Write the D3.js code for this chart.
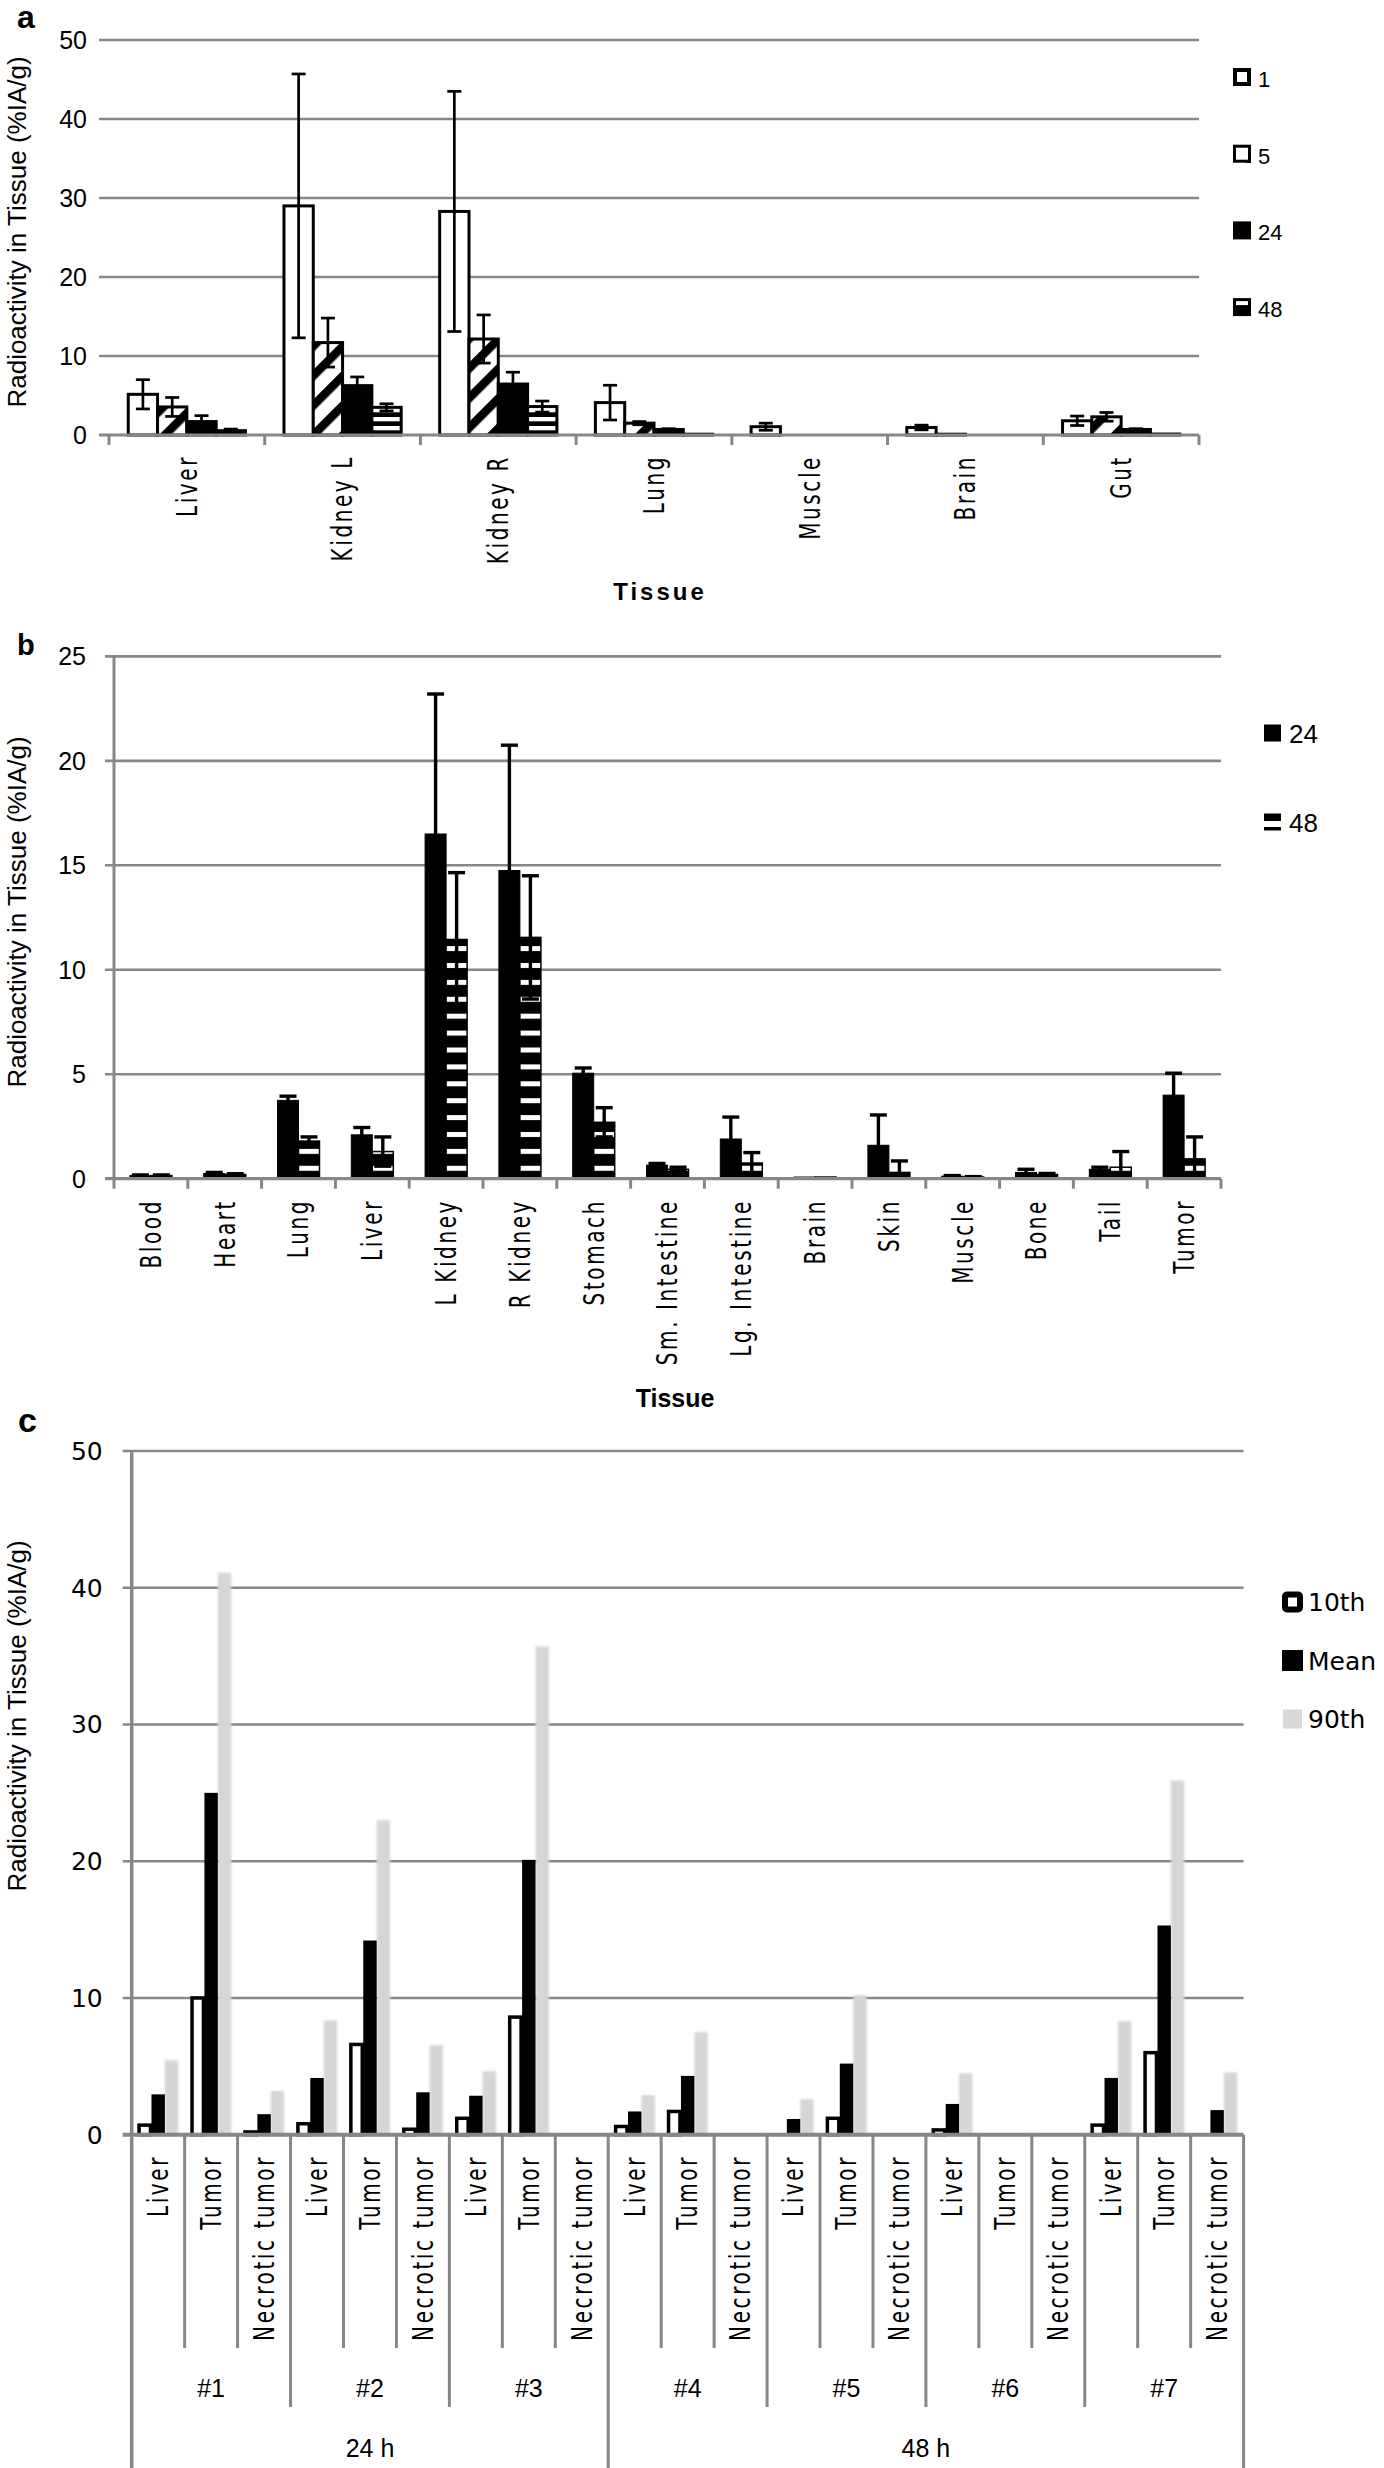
<!DOCTYPE html>
<html>
<head>
<meta charset="utf-8">
<script src="https://cdn.jsdelivr.net/npm/d3@7"></script>
<style>
html,body{margin:0;padding:0;background:#fff;}
svg{display:block;}
</style>
</head>
<body>
<svg id="chart"></svg>
<script>
// ================= DATA =================
// ---- Panel a ----
const tissuesA = ["Liver", "Kidney L", "Kidney R", "Lung", "Muscle", "Brain", "Gut"];
const seriesA = ["1", "5", "24", "48"];
const valuesA_1h  = [5.15, 29.0, 28.3, 4.1, 1.05, 0.95, 1.8];
const errorsA_1h  = [1.85, 16.7, 15.2, 2.2, 0.45, 0.3, 0.6];
const valuesA_5h  = [3.55, 11.7, 12.15, 1.5, 0, 0.1, 2.3];
const errorsA_5h  = [1.2, 3.1, 3.05, 0.2, 0, 0, 0.55];
const valuesA_24h = [1.7, 6.25, 6.45, 0.7, 0, 0, 0.7];
const errorsA_24h = [0.75, 1.1, 1.5, 0.1, 0, 0, 0.1];
const valuesA_48h = [0.55, 3.5, 3.6, 0.1, 0, 0, 0.12];
const errorsA_48h = [0.2, 0.45, 0.7, 0, 0, 0, 0];
const yTicksA = [0, 10, 20, 30, 40, 50];

// ---- Panel b ----
const tissuesB = ["Blood", "Heart", "Lung", "Liver", "L Kidney", "R Kidney", "Stomach",
  "Sm. Intestine", "Lg. Intestine", "Brain", "Skin", "Muscle", "Bone", "Tail", "Tumor"];
const seriesB = ["24", "48"];
const valuesB_24h = [0.15, 0.25, 3.75, 2.1, 16.5, 14.75, 5.05, 0.65, 1.9, 0.08, 1.6, 0.12, 0.3, 0.45, 4.0];
const errorsB_24h = [0.03, 0.05, 0.2, 0.35, 6.7, 6.0, 0.25, 0.08, 1.05, 0, 1.45, 0.03, 0.15, 0.1, 1.05];
const valuesB_48h = [0.15, 0.2, 1.8, 1.3, 11.45, 11.55, 2.7, 0.45, 0.75, 0.08, 0.3, 0.08, 0.2, 0.55, 0.95];
const errorsB_48h = [0.03, 0.04, 0.2, 0.7, 3.2, 2.95, 0.7, 0.1, 0.5, 0, 0.55, 0.02, 0.05, 0.75, 1.05];
const yTicksB = [0, 5, 10, 15, 20, 25];

// ---- Panel c ----
const tissuesC = ["Liver", "Tumor", "Necrotic tumor"];
const animalsC = ["#1", "#2", "#3", "#4", "#5", "#6", "#7"];
const timepointsC = ["24 h", "48 h"];
const animalsPerTimepoint = [3, 4];
const seriesC = ["10th", "Mean", "90th"];
const valuesC_10th = [0.7, 10.0, 0.2,  0.8, 6.6, 0.4,  1.2, 8.6, 0,  0.6, 1.7, 0,  0, 1.2, 0,  0.35, 0, 0,  0.7, 6.0, 0];
const valuesC_mean = [2.95, 25.0, 1.5, 4.15, 14.2, 3.1, 2.85, 20.1, 0, 1.7, 4.3, 0, 1.15, 5.2, 0, 2.25, 0, 0, 4.15, 15.3, 1.8];
const valuesC_90th = [5.45, 41.1, 3.2, 8.35, 23.0, 6.55, 4.65, 35.7, 0, 2.9, 7.5, 0, 2.6, 10.2, 0, 4.5, 0, 0, 8.3, 25.9, 4.55];
const yTicksC = [0, 10, 20, 30, 40, 50];

// ================= RENDER =================
const W = 1384, H = 2468;
const GRID = "#878787";
const ARIAL = "'Liberation Sans', Arial, sans-serif";
const VERD = "'DejaVu Sans', Verdana, sans-serif";
const yTitle = "Radioactivity in Tissue (%IA/g)";

const svg = d3.select("#chart").attr("width", W).attr("height", H);
svg.append("rect").attr("width", W).attr("height", H).attr("fill", "#fff");
const defs = svg.append("defs");

function drawErr(g, items, cx, y, capW, sw) {
  const ge = g.append("g").attr("stroke", "#000").attr("stroke-width", sw).attr("fill", "none");
  items.forEach(d => {
    const c = cx(d), top = y(d.v + d.e), lowV = d.v - d.e, bot = y(Math.max(0, lowV));
    ge.append("line").attr("x1", c).attr("x2", c).attr("y1", top).attr("y2", bot);
    ge.append("line").attr("x1", c - capW / 2).attr("x2", c + capW / 2).attr("y1", top).attr("y2", top);
    if (lowV > 0) ge.append("line").attr("x1", c - capW / 2).attr("x2", c + capW / 2).attr("y1", bot).attr("y2", bot);
  });
}

function catLabels(g, names, cxFn, yTop) {
  g.selectAll(null).data(names).join("text")
    .attr("transform", (d, i) => `translate(${cxFn(d, i)},${yTop}) rotate(-90) scale(1,1.4)`)
    .attr("text-anchor", "end").attr("dy", "0.35em")
    .style("font-family", VERD).style("font-size", "20px").style("letter-spacing", "2.6px")
    .attr("fill", "#000").text(d => d);
}

function yAxisTitle(cy) {
  svg.append("text").attr("transform", `translate(26,${cy}) rotate(-90)`)
    .attr("text-anchor", "middle").style("font-family", ARIAL).style("font-size", "26px")
    .attr("fill", "#000").text(yTitle);
}

// ---------------- Panel a ----------------
{
  const x = d3.scaleBand().domain(tissuesA).range([109, 1199]);
  const y = d3.scaleLinear().domain([0, 50]).range([435, 40]);
  const s = d3.scaleBand().domain(seriesA).range([0, x.bandwidth()]).paddingOuter(0.657);
  const [x0, x1] = x.range();

  const pA5 = defs.append("pattern").attr("id", "pA5").attr("patternUnits", "userSpaceOnUse")
    .attr("width", 21).attr("height", 21).attr("patternTransform", "rotate(45)");
  pA5.append("rect").attr("width", 21).attr("height", 21).attr("fill", "#fff");
  pA5.append("rect").attr("width", 8.5).attr("height", 21).attr("fill", "#000");
  const pA48 = defs.append("pattern").attr("id", "pA48").attr("patternUnits", "userSpaceOnUse")
    .attr("width", 10).attr("height", 9).attr("y", y(0));
  pA48.append("rect").attr("width", 10).attr("height", 9).attr("fill", "#000");
  pA48.append("rect").attr("width", 10).attr("height", 4.3).attr("fill", "#fff");

  const g = svg.append("g");
  g.selectAll(null).data(yTicksA.filter(t => t > 0)).join("line")
    .attr("x1", x0 - 10).attr("x2", x1).attr("y1", d => y(d)).attr("y2", d => y(d))
    .attr("stroke", GRID).attr("stroke-width", 2.6);
  g.selectAll(null).data(yTicksA).join("text")
    .attr("x", x0 - 22).attr("y", d => y(d)).attr("dy", "0.36em").attr("text-anchor", "end")
    .style("font-family", ARIAL).style("font-size", "25px").text(d => d);

  const vals = [valuesA_1h, valuesA_5h, valuesA_24h, valuesA_48h];
  const errs = [errorsA_1h, errorsA_5h, errorsA_24h, errorsA_48h];
  const fills = ["#fff", "url(#pA5)", "#000", "url(#pA48)"];
  const data = [];
  tissuesA.forEach((t, i) => seriesA.forEach((k, j) => data.push({ t, k, j, v: vals[j][i], e: errs[j][i] })));
  g.selectAll(null).data(data.filter(d => d.v > 0)).join("rect")
    .attr("x", d => x(d.t) + s(d.k)).attr("y", d => y(d.v))
    .attr("width", s.bandwidth()).attr("height", d => y(0) - y(d.v))
    .attr("fill", d => fills[d.j]).attr("stroke", "#000").attr("stroke-width", 3);
  drawErr(g, data.filter(d => d.v > 0 && d.e > 0), d => x(d.t) + s(d.k) + s.bandwidth() / 2, y, 14, 2.7);

  g.append("line").attr("x1", x0 - 10).attr("x2", x1).attr("y1", y(0)).attr("y2", y(0))
    .attr("stroke", GRID).attr("stroke-width", 3);
  const bx = d3.range(tissuesA.length + 1).map(i => i < tissuesA.length ? x(tissuesA[i]) : x1);
  g.selectAll(null).data(bx).join("line")
    .attr("x1", d => d).attr("x2", d => d).attr("y1", y(0)).attr("y2", y(0) + 10)
    .attr("stroke", GRID).attr("stroke-width", 3);

  catLabels(g, tissuesA, d => x(d) + x.bandwidth() / 2, 455);
  g.append("text").attr("x", (x0 + x1) / 2 + 6).attr("y", 600).attr("text-anchor", "middle")
    .style("font-family", ARIAL).style("font-size", "24px").style("font-weight", "bold")
    .style("letter-spacing", "3px").text("Tissue");
  yAxisTitle(232);
  svg.append("text").attr("x", 17).attr("y", 28).style("font-family", ARIAL).style("font-size", "32px")
    .style("font-weight", "bold").text("a");

  const lg = svg.append("g");
  seriesA.forEach((k, i) => {
    const lx = 1233, cy = 77 + i * 76.7, sz = 18, top = cy - sz / 2;
    if (k === "1") {
      lg.append("rect").attr("x", lx + 2).attr("y", top + 2).attr("width", sz - 4).attr("height", sz - 4)
        .attr("fill", "#fff").attr("stroke", "#000").attr("stroke-width", 4);
    } else if (k === "5") {
      lg.append("rect").attr("x", lx + 1.5).attr("y", top + 1.5).attr("width", sz - 3).attr("height", sz - 3)
        .attr("fill", "#fff").attr("stroke", "#000").attr("stroke-width", 3);
      lg.append("path").attr("d", `M${lx + sz - 6},${top + sz} L${lx + sz},${top + sz - 6} L${lx + sz},${top + sz} Z`).attr("fill", "#000");
    } else if (k === "24") {
      lg.append("rect").attr("x", lx).attr("y", top).attr("width", sz).attr("height", sz).attr("fill", "#000");
    } else {
      lg.append("rect").attr("x", lx).attr("y", top).attr("width", sz).attr("height", sz).attr("fill", "#000");
      lg.append("rect").attr("x", lx + 3).attr("y", top + 3).attr("width", sz - 6).attr("height", 4).attr("fill", "#fff");
    }
    lg.append("text").attr("x", 1258).attr("y", cy + 2).attr("dy", "0.36em")
      .style("font-family", ARIAL).style("font-size", "22px").text(k);
  });
}

// ---------------- Panel b ----------------
{
  const x = d3.scaleBand().domain(tissuesB).range([114, 1221]);
  const y = d3.scaleLinear().domain([0, 25]).range([1178.7, 656.4]);
  const s = d3.scaleBand().domain(seriesB).range([0, x.bandwidth()]).paddingOuter(0.757);
  const [x0, x1] = x.range();

  const pB48 = defs.append("pattern").attr("id", "pB48").attr("patternUnits", "userSpaceOnUse")
    .attr("width", 10).attr("height", 16.9).attr("y", y(0));
  pB48.append("rect").attr("width", 10).attr("height", 16.9).attr("fill", "#000");
  pB48.append("rect").attr("y", 4).attr("width", 10).attr("height", 5).attr("fill", "#fff");

  const g = svg.append("g");
  g.selectAll(null).data(yTicksB.filter(t => t > 0)).join("line")
    .attr("x1", x0 - 9).attr("x2", x1).attr("y1", d => y(d)).attr("y2", d => y(d))
    .attr("stroke", GRID).attr("stroke-width", 2.6);
  g.selectAll(null).data(yTicksB).join("text")
    .attr("x", x0 - 28).attr("y", d => y(d)).attr("dy", "0.36em").attr("text-anchor", "end")
    .style("font-family", ARIAL).style("font-size", "25px").text(d => d);

  const vals = [valuesB_24h, valuesB_48h];
  const errs = [errorsB_24h, errorsB_48h];
  const fills = ["#000", "url(#pB48)"];
  const data = [];
  tissuesB.forEach((t, i) => seriesB.forEach((k, j) => data.push({ t, k, j, v: vals[j][i], e: errs[j][i] })));
  g.selectAll(null).data(data.filter(d => d.v > 0)).join("rect")
    .attr("x", d => x(d.t) + s(d.k)).attr("y", d => y(d.v))
    .attr("width", s.bandwidth()).attr("height", d => y(0) - y(d.v))
    .attr("fill", d => fills[d.j]).attr("stroke", "#000").attr("stroke-width", d => d.j === 0 ? 1 : 1.5);
  drawErr(g, data.filter(d => d.v > 0 && d.e > 0), d => x(d.t) + s(d.k) + s.bandwidth() / 2, y, 17, 3.4);

  g.append("line").attr("x1", x0).attr("x2", x0).attr("y1", y(25)).attr("y2", y(0))
    .attr("stroke", GRID).attr("stroke-width", 3);
  g.append("line").attr("x1", x0 - 9).attr("x2", x1).attr("y1", y(0)).attr("y2", y(0))
    .attr("stroke", GRID).attr("stroke-width", 3.2);
  const bx = d3.range(tissuesB.length + 1).map(i => i < tissuesB.length ? x(tissuesB[i]) : x1);
  g.selectAll(null).data(bx).join("line")
    .attr("x1", d => d).attr("x2", d => d).attr("y1", y(0)).attr("y2", y(0) + 10)
    .attr("stroke", GRID).attr("stroke-width", 3);

  catLabels(g, tissuesB, d => x(d) + x.bandwidth() / 2, 1199);
  g.append("text").attr("x", 675).attr("y", 1407).attr("text-anchor", "middle")
    .style("font-family", ARIAL).style("font-size", "25px").style("font-weight", "bold").text("Tissue");
  yAxisTitle(912);
  svg.append("text").attr("x", 17).attr("y", 655).style("font-family", ARIAL).style("font-size", "29px")
    .style("font-weight", "bold").text("b");

  const lg = svg.append("g");
  seriesB.forEach((k, i) => {
    const lx = 1264, cy = 733 + i * 89, sz = 17, top = cy - sz / 2;
    if (k === "24") {
      lg.append("rect").attr("x", lx).attr("y", top).attr("width", sz).attr("height", sz).attr("fill", "#000");
    } else {
      lg.append("rect").attr("x", lx).attr("y", top).attr("width", sz).attr("height", 7.5).attr("fill", "#000");
      lg.append("rect").attr("x", lx).attr("y", top + 13.5).attr("width", sz).attr("height", 3.5).attr("fill", "#000");
    }
    lg.append("text").attr("x", 1289).attr("y", cy + 1).attr("dy", "0.36em")
      .style("font-family", ARIAL).style("font-size", "26px").text(k);
  });
}

// ---------------- Panel c ----------------
{
  const nCat = animalsC.length * tissuesC.length;
  const idx = d3.range(nCat);
  const x = d3.scaleBand().domain(idx).range([131.7, 1243.6]);
  const y = d3.scaleLinear().domain([0, 50]).range([2134.7, 1451]);
  const s = d3.scaleBand().domain(seriesC).range([0, x.bandwidth()]).paddingOuter(0.475);
  const [x0, x1] = x.range();

  const filt = defs.append("filter").attr("id", "soft").attr("x", "-40%").attr("y", "-2%")
    .attr("width", "180%").attr("height", "104%");
  filt.append("feGaussianBlur").attr("stdDeviation", 1.3);

  const g = svg.append("g");
  g.selectAll(null).data(yTicksC.filter(t => t > 0)).join("line")
    .attr("x1", x0 - 9).attr("x2", x1).attr("y1", d => y(d)).attr("y2", d => y(d))
    .attr("stroke", GRID).attr("stroke-width", 2.6);
  g.selectAll(null).data(yTicksC).join("text")
    .attr("x", x0 - 29).attr("y", d => y(d)).attr("dy", "0.36em").attr("text-anchor", "end")
    .style("font-family", VERD).style("font-size", "25px").text(d => d);

  const vals = [valuesC_10th, valuesC_mean, valuesC_90th];
  const data = [];
  idx.forEach(i => seriesC.forEach((k, j) => data.push({ i, k, j, v: vals[j][i] })));
  const bars = data.filter(d => d.v > 0);
  g.selectAll(null).data(bars.filter(d => d.j === 2)).join("rect")
    .attr("x", d => x(d.i) + s(d.k)).attr("y", d => y(d.v))
    .attr("width", s.bandwidth()).attr("height", d => y(0) - y(d.v))
    .attr("fill", "#d6d6d6").attr("filter", "url(#soft)");
  g.selectAll(null).data(bars.filter(d => d.j === 1)).join("rect")
    .attr("x", d => x(d.i) + s(d.k)).attr("y", d => y(d.v))
    .attr("width", s.bandwidth()).attr("height", d => y(0) - y(d.v)).attr("fill", "#000");
  g.selectAll(null).data(bars.filter(d => d.j === 0)).join("rect")
    .attr("x", d => x(d.i) + s(d.k) + 1).attr("y", d => y(d.v))
    .attr("width", s.bandwidth() - 2).attr("height", d => y(0) - y(d.v))
    .attr("fill", "#fff").attr("stroke", "#000").attr("stroke-width", 3.5);

  g.append("line").attr("x1", x0).attr("x2", x0).attr("y1", y(50)).attr("y2", H)
    .attr("stroke", GRID).attr("stroke-width", 3.5);
  g.append("line").attr("x1", x0 - 9).attr("x2", x1).attr("y1", y(0)).attr("y2", y(0))
    .attr("stroke", GRID).attr("stroke-width", 4);
  const timeBounds = [0];
  animalsPerTimepoint.forEach(n => timeBounds.push(timeBounds[timeBounds.length - 1] + n * tissuesC.length));
  const bpos = i => i < nCat ? x(i) : x1;
  g.selectAll(null).data(d3.range(1, nCat + 1)).join("line")
    .attr("x1", i => bpos(i)).attr("x2", i => bpos(i)).attr("y1", y(0))
    .attr("y2", i => timeBounds.includes(i) ? H : (i % tissuesC.length === 0 ? 2407 : 2348))
    .attr("stroke", GRID).attr("stroke-width", 3);

  catLabels(g, idx.map(i => tissuesC[i % tissuesC.length]), (d, i) => x(i) + x.bandwidth() / 2, 2155);

  g.selectAll(null).data(animalsC).join("text")
    .attr("x", (d, k) => (bpos(k * 3) + bpos(k * 3 + 3)) / 2).attr("y", 2397).attr("text-anchor", "middle")
    .style("font-family", ARIAL).style("font-size", "25px").text(d => d);
  g.selectAll(null).data(timepointsC).join("text")
    .attr("x", (d, k) => (bpos(timeBounds[k]) + bpos(timeBounds[k + 1])) / 2).attr("y", 2457).attr("text-anchor", "middle")
    .style("font-family", ARIAL).style("font-size", "25px").text(d => d);

  yAxisTitle(1716);
  svg.append("text").attr("x", 18).attr("y", 1432).style("font-family", ARIAL).style("font-size", "34px")
    .style("font-weight", "bold").text("c");

  const lg = svg.append("g");
  seriesC.forEach((k, i) => {
    const lx = 1282, cy = 1602 + i * 58.5, sz = 21, top = cy - sz / 2;
    if (k === "10th") {
      lg.append("rect").attr("x", lx + 3).attr("y", top + 3).attr("width", sz - 6).attr("height", sz - 6)
        .attr("rx", 2).attr("fill", "#fff").attr("stroke", "#000").attr("stroke-width", 6);
    } else if (k === "Mean") {
      lg.append("rect").attr("x", lx).attr("y", top).attr("width", sz).attr("height", sz).attr("fill", "#000");
    } else {
      lg.append("rect").attr("x", lx + 1).attr("y", top + 1).attr("width", sz - 2).attr("height", sz - 2).attr("fill", "#d9d9d9");
    }
    lg.append("text").attr("x", 1308).attr("y", cy).attr("dy", "0.36em")
      .style("font-family", VERD).style("font-size", "25px").text(k);
  });
}
</script>
</body>
</html>
